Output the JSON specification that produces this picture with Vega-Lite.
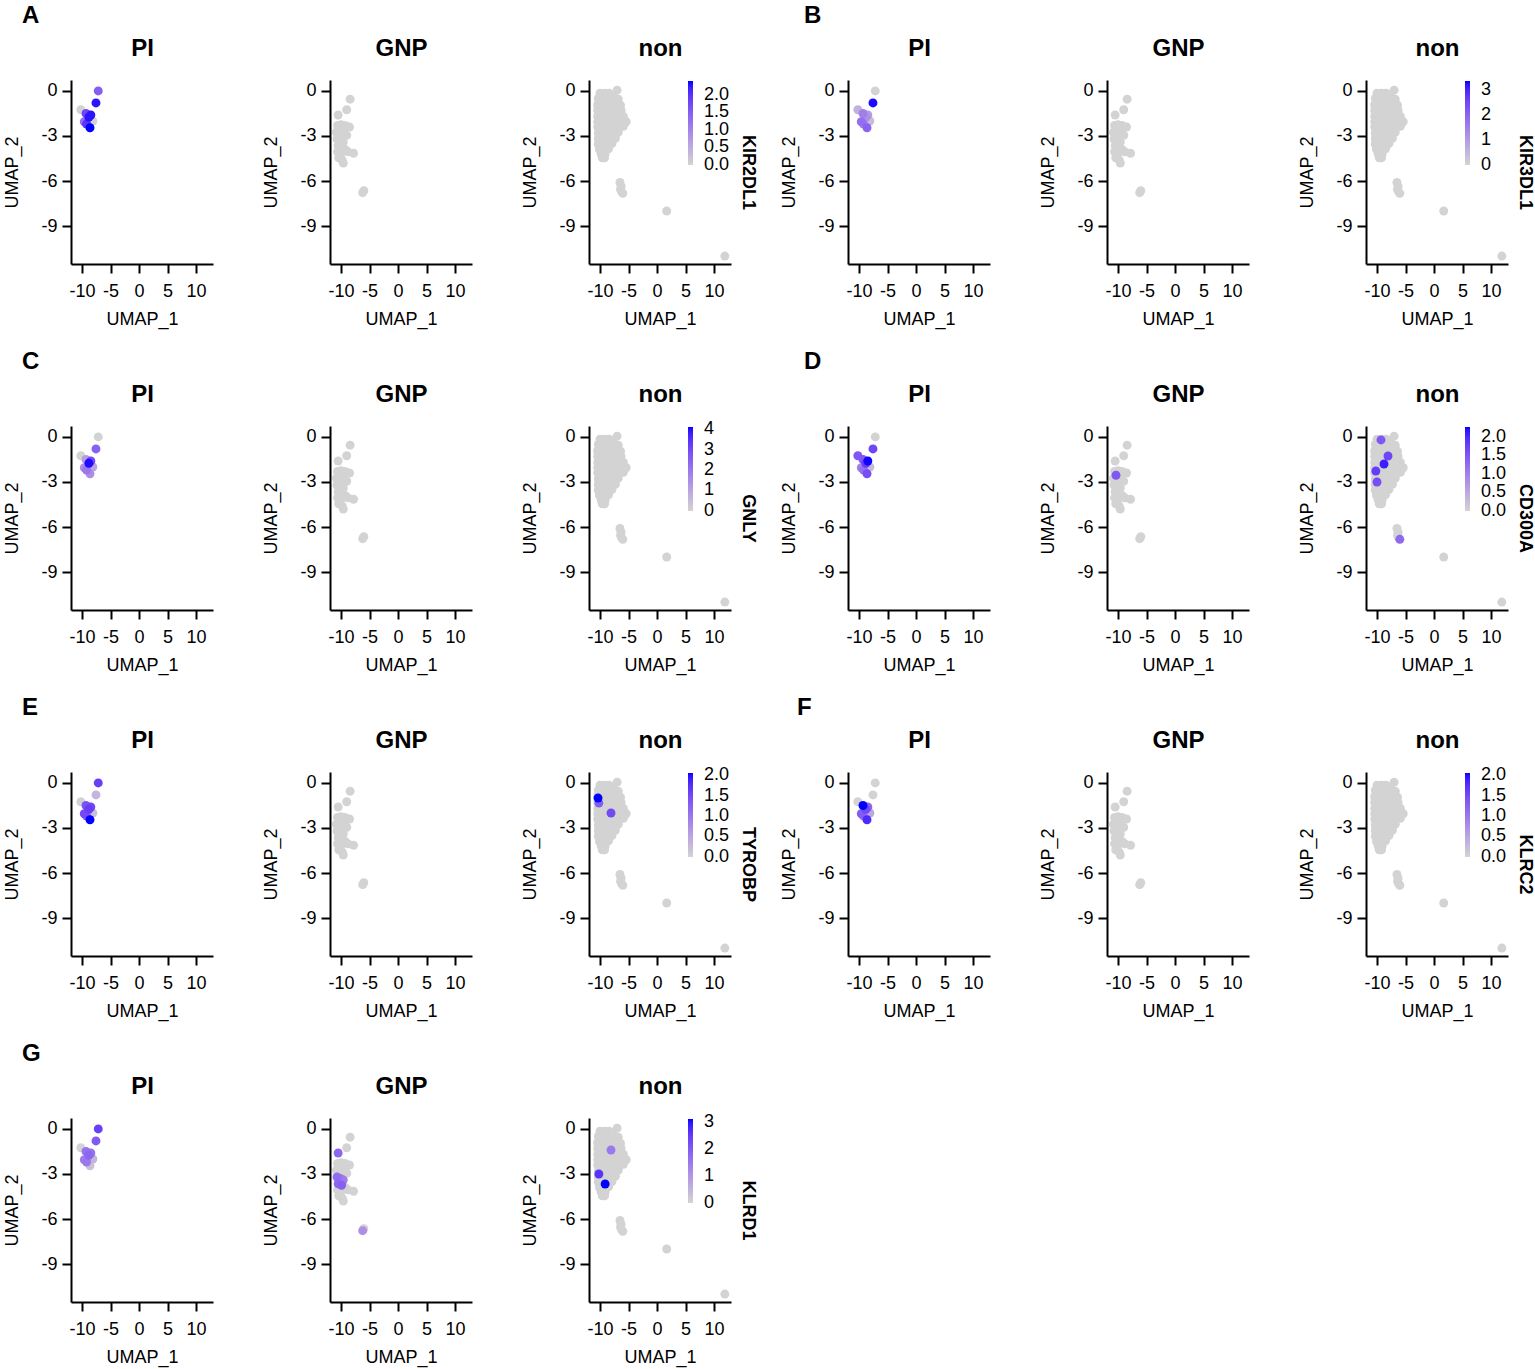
{
"$schema": "https://vega.github.io/schema/vega-lite/v6.json",
"background": "white",
"padding": {"left": 3, "top": 4, "right": 5, "bottom": 5},
"config": {
 "font": "Liberation Sans",
 "view": {"stroke": null},
 "axis": {"domainColor": "black", "domainWidth": 2, "tickColor": "black", "tickWidth": 2, "tickSize": 9, "labelFontSize": 18, "labelColor": "black", "titleFontSize": 18, "titleFontWeight": "normal", "titleColor": "black", "grid": false, "labelPadding": 9, "titlePadding": 10},
 "axisY": {"titlePadding": 19, "labelPadding": 5},
 "title": {"fontSize": 24, "fontWeight": "bold", "color": "black", "offset": 8},
 "legend": {"labelFontSize": 18, "labelColor": "black"}
},
"datasets": {"cells": [
{"g":"PI","x":-7.15,"y":0.0,"KIR2DL1":1.5,"KIR3DL1":0,"GNLY":0,"CD300A":0,"TYROBP":1.6,"KLRC2":0,"KLRD1":2.4},
{"g":"PI","x":-7.55,"y":-0.8,"KIR2DL1":2.3,"KIR3DL1":3.3,"GNLY":2.5,"CD300A":1.7,"TYROBP":0.3,"KLRC2":0,"KLRD1":2.0},
{"g":"PI","x":-10.2,"y":-1.25,"KIR2DL1":0,"KIR3DL1":0.6,"GNLY":0,"CD300A":1.5,"TYROBP":0,"KLRC2":0,"KLRD1":0},
{"g":"PI","x":-9.3,"y":-1.5,"KIR2DL1":1.8,"KIR3DL1":1.5,"GNLY":1.2,"CD300A":1.5,"TYROBP":1.4,"KLRC2":2.05,"KLRD1":1.6},
{"g":"PI","x":-8.45,"y":-1.6,"KIR2DL1":2.3,"KIR3DL1":1.0,"GNLY":3.0,"CD300A":2.25,"TYROBP":1.5,"KLRC2":1.2,"KLRD1":1.6},
{"g":"PI","x":-8.8,"y":-1.75,"KIR2DL1":2.3,"KIR3DL1":1.2,"GNLY":4.0,"CD300A":1.8,"TYROBP":1.6,"KLRC2":1.5,"KLRD1":1.8},
{"g":"PI","x":-9.6,"y":-2.05,"KIR2DL1":1.3,"KIR3DL1":1.8,"GNLY":1.5,"CD300A":1.0,"TYROBP":1.5,"KLRC2":1.3,"KLRD1":1.4},
{"g":"PI","x":-8.1,"y":-2.0,"KIR2DL1":0,"KIR3DL1":0.4,"GNLY":1.0,"CD300A":0.3,"TYROBP":0.2,"KLRC2":0.5,"KLRD1":0.5},
{"g":"PI","x":-8.6,"y":-2.45,"KIR2DL1":2.4,"KIR3DL1":2.0,"GNLY":1.5,"CD300A":1.6,"TYROBP":2.05,"KLRC2":1.8,"KLRD1":0.3},
{"g":"PI","x":-9.2,"y":-2.2,"KIR2DL1":2.0,"KIR3DL1":1.5,"GNLY":2.0,"CD300A":1.2,"TYROBP":1.3,"KLRC2":1.0,"KLRD1":1.5},
{"g":"GNP","x":-8.4,"y":-0.55,"KIR2DL1":0,"KIR3DL1":0,"GNLY":0,"CD300A":0,"TYROBP":0,"KLRC2":0,"KLRD1":0},
{"g":"GNP","x":-9.0,"y":-1.25,"KIR2DL1":0,"KIR3DL1":0,"GNLY":0,"CD300A":0,"TYROBP":0,"KLRC2":0,"KLRD1":0},
{"g":"GNP","x":-10.5,"y":-1.6,"KIR2DL1":0,"KIR3DL1":0,"GNLY":0,"CD300A":0,"TYROBP":0,"KLRC2":0,"KLRD1":1.8},
{"g":"GNP","x":-10.6,"y":-2.3,"KIR2DL1":0,"KIR3DL1":0,"GNLY":0,"CD300A":0,"TYROBP":0,"KLRC2":0,"KLRD1":0},
{"g":"GNP","x":-10.0,"y":-2.25,"KIR2DL1":0,"KIR3DL1":0,"GNLY":0,"CD300A":0,"TYROBP":0,"KLRC2":0,"KLRD1":0},
{"g":"GNP","x":-9.3,"y":-2.3,"KIR2DL1":0,"KIR3DL1":0,"GNLY":0,"CD300A":0,"TYROBP":0,"KLRC2":0,"KLRD1":0},
{"g":"GNP","x":-8.5,"y":-2.4,"KIR2DL1":0,"KIR3DL1":0,"GNLY":0,"CD300A":0,"TYROBP":0,"KLRC2":0,"KLRD1":0},
{"g":"GNP","x":-10.8,"y":-2.75,"KIR2DL1":0,"KIR3DL1":0,"GNLY":0,"CD300A":0,"TYROBP":0,"KLRC2":0,"KLRD1":0},
{"g":"GNP","x":-10.2,"y":-2.8,"KIR2DL1":0,"KIR3DL1":0,"GNLY":0,"CD300A":0,"TYROBP":0,"KLRC2":0,"KLRD1":0},
{"g":"GNP","x":-9.5,"y":-2.8,"KIR2DL1":0,"KIR3DL1":0,"GNLY":0,"CD300A":0,"TYROBP":0,"KLRC2":0,"KLRD1":0},
{"g":"GNP","x":-9.0,"y":-2.95,"KIR2DL1":0,"KIR3DL1":0,"GNLY":0,"CD300A":0,"TYROBP":0,"KLRC2":0,"KLRD1":0},
{"g":"GNP","x":-10.7,"y":-3.2,"KIR2DL1":0,"KIR3DL1":0,"GNLY":0,"CD300A":0,"TYROBP":0,"KLRC2":0,"KLRD1":1.7},
{"g":"GNP","x":-10.1,"y":-3.3,"KIR2DL1":0,"KIR3DL1":0,"GNLY":0,"CD300A":0,"TYROBP":0,"KLRC2":0,"KLRD1":1.5},
{"g":"GNP","x":-9.6,"y":-3.4,"KIR2DL1":0,"KIR3DL1":0,"GNLY":0,"CD300A":0,"TYROBP":0,"KLRC2":0,"KLRD1":1.4},
{"g":"GNP","x":-10.5,"y":-3.65,"KIR2DL1":0,"KIR3DL1":0,"GNLY":0,"CD300A":0,"TYROBP":0,"KLRC2":0,"KLRD1":1.8},
{"g":"GNP","x":-9.9,"y":-3.75,"KIR2DL1":0,"KIR3DL1":0,"GNLY":0,"CD300A":0,"TYROBP":0,"KLRC2":0,"KLRD1":1.9},
{"g":"GNP","x":-9.3,"y":-3.9,"KIR2DL1":0,"KIR3DL1":0,"GNLY":0,"CD300A":0,"TYROBP":0,"KLRC2":0,"KLRD1":0},
{"g":"GNP","x":-10.6,"y":-4.05,"KIR2DL1":0,"KIR3DL1":0,"GNLY":0,"CD300A":0,"TYROBP":0,"KLRC2":0,"KLRD1":0},
{"g":"GNP","x":-10.0,"y":-4.15,"KIR2DL1":0,"KIR3DL1":0,"GNLY":0,"CD300A":0,"TYROBP":0,"KLRC2":0,"KLRD1":0},
{"g":"GNP","x":-7.8,"y":-4.15,"KIR2DL1":0,"KIR3DL1":0,"GNLY":0,"CD300A":0,"TYROBP":0,"KLRC2":0,"KLRD1":0},
{"g":"GNP","x":-8.8,"y":-4.05,"KIR2DL1":0,"KIR3DL1":0,"GNLY":0,"CD300A":0,"TYROBP":0,"KLRC2":0,"KLRD1":0},
{"g":"GNP","x":-10.4,"y":-4.45,"KIR2DL1":0,"KIR3DL1":0,"GNLY":0,"CD300A":0,"TYROBP":0,"KLRC2":0,"KLRD1":0},
{"g":"GNP","x":-9.8,"y":-4.6,"KIR2DL1":0,"KIR3DL1":0,"GNLY":0,"CD300A":0,"TYROBP":0,"KLRC2":0,"KLRD1":0},
{"g":"GNP","x":-9.6,"y":-4.8,"KIR2DL1":0,"KIR3DL1":0,"GNLY":0,"CD300A":0,"TYROBP":0,"KLRC2":0,"KLRD1":0},
{"g":"GNP","x":-6.0,"y":-6.65,"KIR2DL1":0,"KIR3DL1":0,"GNLY":0,"CD300A":0,"TYROBP":0,"KLRC2":0,"KLRD1":0},
{"g":"GNP","x":-6.2,"y":-6.78,"KIR2DL1":0,"KIR3DL1":0,"GNLY":0,"CD300A":0,"TYROBP":0,"KLRC2":0,"KLRD1":1.1},
{"g":"GNP","x":-10.35,"y":-2.55,"KIR2DL1":0,"KIR3DL1":0,"GNLY":0,"CD300A":1.5,"TYROBP":0,"KLRC2":0,"KLRD1":0},
{"g":"non","x":-10.0,"y":-0.15,"KIR2DL1":0,"KIR3DL1":0,"GNLY":0,"CD300A":0,"TYROBP":0,"KLRC2":0,"KLRD1":0},
{"g":"non","x":-9.2,"y":-0.15,"KIR2DL1":0,"KIR3DL1":0,"GNLY":0,"CD300A":0,"TYROBP":0,"KLRC2":0,"KLRD1":0},
{"g":"non","x":-8.4,"y":-0.15,"KIR2DL1":0,"KIR3DL1":0,"GNLY":0,"CD300A":0,"TYROBP":0,"KLRC2":0,"KLRD1":0},
{"g":"non","x":-7.0,"y":0.05,"KIR2DL1":0,"KIR3DL1":0,"GNLY":0,"CD300A":0,"TYROBP":0,"KLRC2":0,"KLRD1":0},
{"g":"non","x":-7.6,"y":-0.4,"KIR2DL1":0,"KIR3DL1":0,"GNLY":0,"CD300A":0,"TYROBP":0,"KLRC2":0,"KLRD1":0},
{"g":"non","x":-10.3,"y":-0.5,"KIR2DL1":0,"KIR3DL1":0,"GNLY":0,"CD300A":0,"TYROBP":0,"KLRC2":0,"KLRD1":0},
{"g":"non","x":-9.5,"y":-0.5,"KIR2DL1":0,"KIR3DL1":0,"GNLY":0,"CD300A":0,"TYROBP":0,"KLRC2":0,"KLRD1":0},
{"g":"non","x":-8.7,"y":-0.5,"KIR2DL1":0,"KIR3DL1":0,"GNLY":0,"CD300A":0,"TYROBP":0,"KLRC2":0,"KLRD1":0},
{"g":"non","x":-7.9,"y":-0.5,"KIR2DL1":0,"KIR3DL1":0,"GNLY":0,"CD300A":0,"TYROBP":0,"KLRC2":0,"KLRD1":0},
{"g":"non","x":-6.8,"y":-0.55,"KIR2DL1":0,"KIR3DL1":0,"GNLY":0,"CD300A":0,"TYROBP":0,"KLRC2":0,"KLRD1":0},
{"g":"non","x":-10.4,"y":-0.9,"KIR2DL1":0,"KIR3DL1":0,"GNLY":0,"CD300A":0,"TYROBP":0,"KLRC2":0,"KLRD1":0},
{"g":"non","x":-9.6,"y":-0.9,"KIR2DL1":0,"KIR3DL1":0,"GNLY":0,"CD300A":0,"TYROBP":0,"KLRC2":0,"KLRD1":0},
{"g":"non","x":-8.8,"y":-0.9,"KIR2DL1":0,"KIR3DL1":0,"GNLY":0,"CD300A":0,"TYROBP":0,"KLRC2":0,"KLRD1":0},
{"g":"non","x":-8.0,"y":-0.9,"KIR2DL1":0,"KIR3DL1":0,"GNLY":0,"CD300A":0,"TYROBP":0,"KLRC2":0,"KLRD1":0},
{"g":"non","x":-7.2,"y":-0.9,"KIR2DL1":0,"KIR3DL1":0,"GNLY":0,"CD300A":0,"TYROBP":0,"KLRC2":0,"KLRD1":0},
{"g":"non","x":-6.4,"y":-0.95,"KIR2DL1":0,"KIR3DL1":0,"GNLY":0,"CD300A":0,"TYROBP":0,"KLRC2":0,"KLRD1":0},
{"g":"non","x":-10.4,"y":-1.3,"KIR2DL1":0,"KIR3DL1":0,"GNLY":0,"CD300A":0,"TYROBP":0,"KLRC2":0,"KLRD1":0},
{"g":"non","x":-9.6,"y":-1.3,"KIR2DL1":0,"KIR3DL1":0,"GNLY":0,"CD300A":0,"TYROBP":0,"KLRC2":0,"KLRD1":0},
{"g":"non","x":-8.8,"y":-1.3,"KIR2DL1":0,"KIR3DL1":0,"GNLY":0,"CD300A":0,"TYROBP":0,"KLRC2":0,"KLRD1":0},
{"g":"non","x":-8.0,"y":-1.3,"KIR2DL1":0,"KIR3DL1":0,"GNLY":0,"CD300A":0,"TYROBP":0,"KLRC2":0,"KLRD1":0},
{"g":"non","x":-7.2,"y":-1.3,"KIR2DL1":0,"KIR3DL1":0,"GNLY":0,"CD300A":0,"TYROBP":0,"KLRC2":0,"KLRD1":0},
{"g":"non","x":-6.3,"y":-1.3,"KIR2DL1":0,"KIR3DL1":0,"GNLY":0,"CD300A":0,"TYROBP":0,"KLRC2":0,"KLRD1":0},
{"g":"non","x":-10.4,"y":-1.7,"KIR2DL1":0,"KIR3DL1":0,"GNLY":0,"CD300A":0,"TYROBP":0,"KLRC2":0,"KLRD1":0},
{"g":"non","x":-9.6,"y":-1.7,"KIR2DL1":0,"KIR3DL1":0,"GNLY":0,"CD300A":0,"TYROBP":0,"KLRC2":0,"KLRD1":0},
{"g":"non","x":-8.8,"y":-1.7,"KIR2DL1":0,"KIR3DL1":0,"GNLY":0,"CD300A":0,"TYROBP":0,"KLRC2":0,"KLRD1":0},
{"g":"non","x":-8.0,"y":-1.7,"KIR2DL1":0,"KIR3DL1":0,"GNLY":0,"CD300A":0,"TYROBP":0,"KLRC2":0,"KLRD1":0},
{"g":"non","x":-7.2,"y":-1.7,"KIR2DL1":0,"KIR3DL1":0,"GNLY":0,"CD300A":0,"TYROBP":0,"KLRC2":0,"KLRD1":0},
{"g":"non","x":-6.5,"y":-1.7,"KIR2DL1":0,"KIR3DL1":0,"GNLY":0,"CD300A":0,"TYROBP":0,"KLRC2":0,"KLRD1":0},
{"g":"non","x":-5.9,"y":-1.7,"KIR2DL1":0,"KIR3DL1":0,"GNLY":0,"CD300A":0,"TYROBP":0,"KLRC2":0,"KLRD1":0},
{"g":"non","x":-10.4,"y":-2.05,"KIR2DL1":0,"KIR3DL1":0,"GNLY":0,"CD300A":0,"TYROBP":0,"KLRC2":0,"KLRD1":0},
{"g":"non","x":-9.6,"y":-2.05,"KIR2DL1":0,"KIR3DL1":0,"GNLY":0,"CD300A":0,"TYROBP":0,"KLRC2":0,"KLRD1":0},
{"g":"non","x":-8.8,"y":-2.05,"KIR2DL1":0,"KIR3DL1":0,"GNLY":0,"CD300A":0,"TYROBP":0,"KLRC2":0,"KLRD1":0},
{"g":"non","x":-8.0,"y":-2.05,"KIR2DL1":0,"KIR3DL1":0,"GNLY":0,"CD300A":0,"TYROBP":0,"KLRC2":0,"KLRD1":0},
{"g":"non","x":-7.2,"y":-2.05,"KIR2DL1":0,"KIR3DL1":0,"GNLY":0,"CD300A":0,"TYROBP":0,"KLRC2":0,"KLRD1":0},
{"g":"non","x":-6.4,"y":-2.05,"KIR2DL1":0,"KIR3DL1":0,"GNLY":0,"CD300A":0,"TYROBP":0,"KLRC2":0,"KLRD1":0},
{"g":"non","x":-5.4,"y":-2.05,"KIR2DL1":0,"KIR3DL1":0,"GNLY":0,"CD300A":0,"TYROBP":0,"KLRC2":0,"KLRD1":0},
{"g":"non","x":-10.4,"y":-2.4,"KIR2DL1":0,"KIR3DL1":0,"GNLY":0,"CD300A":0,"TYROBP":0,"KLRC2":0,"KLRD1":0},
{"g":"non","x":-9.6,"y":-2.4,"KIR2DL1":0,"KIR3DL1":0,"GNLY":0,"CD300A":0,"TYROBP":0,"KLRC2":0,"KLRD1":0},
{"g":"non","x":-8.8,"y":-2.4,"KIR2DL1":0,"KIR3DL1":0,"GNLY":0,"CD300A":0,"TYROBP":0,"KLRC2":0,"KLRD1":0},
{"g":"non","x":-8.0,"y":-2.4,"KIR2DL1":0,"KIR3DL1":0,"GNLY":0,"CD300A":0,"TYROBP":0,"KLRC2":0,"KLRD1":0},
{"g":"non","x":-7.2,"y":-2.4,"KIR2DL1":0,"KIR3DL1":0,"GNLY":0,"CD300A":0,"TYROBP":0,"KLRC2":0,"KLRD1":0},
{"g":"non","x":-6.5,"y":-2.4,"KIR2DL1":0,"KIR3DL1":0,"GNLY":0,"CD300A":0,"TYROBP":0,"KLRC2":0,"KLRD1":0},
{"g":"non","x":-5.9,"y":-2.35,"KIR2DL1":0,"KIR3DL1":0,"GNLY":0,"CD300A":0,"TYROBP":0,"KLRC2":0,"KLRD1":0},
{"g":"non","x":-10.3,"y":-2.8,"KIR2DL1":0,"KIR3DL1":0,"GNLY":0,"CD300A":0,"TYROBP":0,"KLRC2":0,"KLRD1":0},
{"g":"non","x":-9.5,"y":-2.8,"KIR2DL1":0,"KIR3DL1":0,"GNLY":0,"CD300A":0,"TYROBP":0,"KLRC2":0,"KLRD1":0},
{"g":"non","x":-8.7,"y":-2.8,"KIR2DL1":0,"KIR3DL1":0,"GNLY":0,"CD300A":0,"TYROBP":0,"KLRC2":0,"KLRD1":0},
{"g":"non","x":-7.9,"y":-2.8,"KIR2DL1":0,"KIR3DL1":0,"GNLY":0,"CD300A":0,"TYROBP":0,"KLRC2":0,"KLRD1":0},
{"g":"non","x":-7.2,"y":-2.8,"KIR2DL1":0,"KIR3DL1":0,"GNLY":0,"CD300A":0,"TYROBP":0,"KLRC2":0,"KLRD1":0},
{"g":"non","x":-6.8,"y":-2.75,"KIR2DL1":0,"KIR3DL1":0,"GNLY":0,"CD300A":0,"TYROBP":0,"KLRC2":0,"KLRD1":0},
{"g":"non","x":-10.3,"y":-3.2,"KIR2DL1":0,"KIR3DL1":0,"GNLY":0,"CD300A":0,"TYROBP":0,"KLRC2":0,"KLRD1":0},
{"g":"non","x":-9.5,"y":-3.2,"KIR2DL1":0,"KIR3DL1":0,"GNLY":0,"CD300A":0,"TYROBP":0,"KLRC2":0,"KLRD1":0},
{"g":"non","x":-8.7,"y":-3.2,"KIR2DL1":0,"KIR3DL1":0,"GNLY":0,"CD300A":0,"TYROBP":0,"KLRC2":0,"KLRD1":0},
{"g":"non","x":-7.9,"y":-3.2,"KIR2DL1":0,"KIR3DL1":0,"GNLY":0,"CD300A":0,"TYROBP":0,"KLRC2":0,"KLRD1":0},
{"g":"non","x":-7.3,"y":-3.15,"KIR2DL1":0,"KIR3DL1":0,"GNLY":0,"CD300A":0,"TYROBP":0,"KLRC2":0,"KLRD1":0},
{"g":"non","x":-10.3,"y":-3.55,"KIR2DL1":0,"KIR3DL1":0,"GNLY":0,"CD300A":0,"TYROBP":0,"KLRC2":0,"KLRD1":0},
{"g":"non","x":-9.5,"y":-3.55,"KIR2DL1":0,"KIR3DL1":0,"GNLY":0,"CD300A":0,"TYROBP":0,"KLRC2":0,"KLRD1":0},
{"g":"non","x":-8.7,"y":-3.55,"KIR2DL1":0,"KIR3DL1":0,"GNLY":0,"CD300A":0,"TYROBP":0,"KLRC2":0,"KLRD1":0},
{"g":"non","x":-7.9,"y":-3.5,"KIR2DL1":0,"KIR3DL1":0,"GNLY":0,"CD300A":0,"TYROBP":0,"KLRC2":0,"KLRD1":0},
{"g":"non","x":-10.1,"y":-3.9,"KIR2DL1":0,"KIR3DL1":0,"GNLY":0,"CD300A":0,"TYROBP":0,"KLRC2":0,"KLRD1":0},
{"g":"non","x":-9.3,"y":-3.9,"KIR2DL1":0,"KIR3DL1":0,"GNLY":0,"CD300A":0,"TYROBP":0,"KLRC2":0,"KLRD1":0},
{"g":"non","x":-8.5,"y":-3.85,"KIR2DL1":0,"KIR3DL1":0,"GNLY":0,"CD300A":0,"TYROBP":0,"KLRC2":0,"KLRD1":0},
{"g":"non","x":-9.8,"y":-4.2,"KIR2DL1":0,"KIR3DL1":0,"GNLY":0,"CD300A":0,"TYROBP":0,"KLRC2":0,"KLRD1":0},
{"g":"non","x":-9.1,"y":-4.2,"KIR2DL1":0,"KIR3DL1":0,"GNLY":0,"CD300A":0,"TYROBP":0,"KLRC2":0,"KLRD1":0},
{"g":"non","x":-9.6,"y":-4.45,"KIR2DL1":0,"KIR3DL1":0,"GNLY":0,"CD300A":0,"TYROBP":0,"KLRC2":0,"KLRD1":0},
{"g":"non","x":-9.2,"y":-4.45,"KIR2DL1":0,"KIR3DL1":0,"GNLY":0,"CD300A":0,"TYROBP":0,"KLRC2":0,"KLRD1":0},
{"g":"non","x":-6.5,"y":-6.1,"KIR2DL1":0,"KIR3DL1":0,"GNLY":0,"CD300A":0,"TYROBP":0,"KLRC2":0,"KLRD1":0},
{"g":"non","x":-6.3,"y":-6.35,"KIR2DL1":0,"KIR3DL1":0,"GNLY":0,"CD300A":0,"TYROBP":0,"KLRC2":0,"KLRD1":0},
{"g":"non","x":-6.4,"y":-6.55,"KIR2DL1":0,"KIR3DL1":0,"GNLY":0,"CD300A":0,"TYROBP":0,"KLRC2":0,"KLRD1":0},
{"g":"non","x":-6.2,"y":-6.72,"KIR2DL1":0,"KIR3DL1":0,"GNLY":0,"CD300A":0,"TYROBP":0,"KLRC2":0,"KLRD1":0},
{"g":"non","x":-6.0,"y":-6.82,"KIR2DL1":0,"KIR3DL1":0,"GNLY":0,"CD300A":1.3,"TYROBP":0,"KLRC2":0,"KLRD1":0},
{"g":"non","x":1.7,"y":-8.0,"KIR2DL1":0,"KIR3DL1":0,"GNLY":0,"CD300A":0,"TYROBP":0,"KLRC2":0,"KLRD1":0},
{"g":"non","x":11.9,"y":-11.0,"KIR2DL1":0,"KIR3DL1":0,"GNLY":0,"CD300A":0,"TYROBP":0,"KLRC2":0,"KLRD1":0},
{"g":"non","x":-9.3,"y":-0.2,"KIR2DL1":0,"KIR3DL1":0,"GNLY":0,"CD300A":1.5,"TYROBP":0,"KLRC2":0,"KLRD1":0},
{"g":"non","x":-8.07,"y":-1.27,"KIR2DL1":0,"KIR3DL1":0,"GNLY":0,"CD300A":1.7,"TYROBP":0,"KLRC2":0,"KLRD1":0},
{"g":"non","x":-8.77,"y":-1.8,"KIR2DL1":0,"KIR3DL1":0,"GNLY":0,"CD300A":2.1,"TYROBP":0,"KLRC2":0,"KLRD1":0},
{"g":"non","x":-10.2,"y":-2.27,"KIR2DL1":0,"KIR3DL1":0,"GNLY":0,"CD300A":1.8,"TYROBP":0,"KLRC2":0,"KLRD1":0},
{"g":"non","x":-10.0,"y":-3.0,"KIR2DL1":0,"KIR3DL1":0,"GNLY":0,"CD300A":1.6,"TYROBP":0,"KLRC2":0,"KLRD1":0},
{"g":"non","x":-10.35,"y":-1.0,"KIR2DL1":0,"KIR3DL1":0,"GNLY":0,"CD300A":0,"TYROBP":2.05,"KLRC2":0,"KLRD1":0},
{"g":"non","x":-10.2,"y":-1.34,"KIR2DL1":0,"KIR3DL1":0,"GNLY":0,"CD300A":0,"TYROBP":1.3,"KLRC2":0,"KLRD1":0},
{"g":"non","x":-8.07,"y":-2.0,"KIR2DL1":0,"KIR3DL1":0,"GNLY":0,"CD300A":0,"TYROBP":1.5,"KLRC2":0,"KLRD1":0},
{"g":"non","x":-8.07,"y":-1.4,"KIR2DL1":0,"KIR3DL1":0,"GNLY":0,"CD300A":0,"TYROBP":0,"KLRC2":0,"KLRD1":1.5},
{"g":"non","x":-10.2,"y":-3.0,"KIR2DL1":0,"KIR3DL1":0,"GNLY":0,"CD300A":0,"TYROBP":0,"KLRC2":0,"KLRD1":2.6},
{"g":"non","x":-9.1,"y":-3.67,"KIR2DL1":0,"KIR3DL1":0,"GNLY":0,"CD300A":0,"TYROBP":0,"KLRC2":0,"KLRD1":3.1}
]},
"columns": 6,
"bounds": "flush",
"spacing": {"row": 162, "column": 117},
"resolve": {"scale": {"color": "independent"}},
"concat": [
{"width":142,"height":184,"title":{"text":"A","anchor":"start","frame":"group","dx":-49},"data":{"name":"cells"},"transform":[{"filter":"datum.g === 'PI'"}],"resolve":{"axis":{"x":"independent"}},"layer":[
 {"mark":{"type":"circle","size":80,"opacity":1},"encoding":{"x":{"field":"x","type":"quantitative","scale":{"domain":[-11.93,12.98],"nice":false,"zero":false},"axis":{"values":[-10,-5,0,5,10],"title":"UMAP_1","labelExpr":"'' + datum.value"}},"y":{"field":"y","type":"quantitative","scale":{"domain":[-11.53,0.73],"nice":false,"zero":false},"axis":{"values":[0,-3,-6,-9],"title":"UMAP_2","labelExpr":"'' + datum.value"}},"color":{"field":"KIR2DL1","type":"quantitative","scale":{"domain":[-0.001,2.4],"range":["#d3d3d3","#0000ff"],"interpolate":"lab"},"legend":null},"order":{"field":"KIR2DL1","type":"quantitative"}}},
 {"mark":{"type":"point","opacity":0},"encoding":{"x":{"field":"x","type":"quantitative","scale":{"domain":[-11.93,12.98],"nice":false,"zero":false},"axis":{"orient":"top","title":"PI","domain":false,"ticks":false,"labels":false,"titleFontSize":24,"titleFontWeight":"bold","titlePadding":20}}}}
]},
{"width":142,"height":184,"data":{"name":"cells"},"transform":[{"filter":"datum.g === 'GNP'"}],"resolve":{"axis":{"x":"independent"}},"layer":[
 {"mark":{"type":"circle","size":80,"opacity":1},"encoding":{"x":{"field":"x","type":"quantitative","scale":{"domain":[-11.93,12.98],"nice":false,"zero":false},"axis":{"values":[-10,-5,0,5,10],"title":"UMAP_1","labelExpr":"'' + datum.value"}},"y":{"field":"y","type":"quantitative","scale":{"domain":[-11.53,0.73],"nice":false,"zero":false},"axis":{"values":[0,-3,-6,-9],"title":"UMAP_2","labelExpr":"'' + datum.value"}},"color":{"field":"KIR2DL1","type":"quantitative","scale":{"domain":[-0.001,2.4],"range":["#d3d3d3","#0000ff"],"interpolate":"lab"},"legend":null},"order":{"field":"KIR2DL1","type":"quantitative"}}},
 {"mark":{"type":"point","opacity":0},"encoding":{"x":{"field":"x","type":"quantitative","scale":{"domain":[-11.93,12.98],"nice":false,"zero":false},"axis":{"orient":"top","title":"GNP","domain":false,"ticks":false,"labels":false,"titleFontSize":24,"titleFontWeight":"bold","titlePadding":20}}}}
]},
{"width":142,"height":184,"data":{"name":"cells"},"transform":[{"filter":"datum.g === 'non'"}],"resolve":{"axis":{"x":"independent","y":"independent"}},"layer":[
 {"mark":{"type":"circle","size":80,"opacity":1},"encoding":{"x":{"field":"x","type":"quantitative","scale":{"domain":[-11.93,12.98],"nice":false,"zero":false},"axis":{"values":[-10,-5,0,5,10],"title":"UMAP_1","labelExpr":"'' + datum.value"}},"y":{"field":"y","type":"quantitative","scale":{"domain":[-11.53,0.73],"nice":false,"zero":false},"axis":{"values":[0,-3,-6,-9],"title":"UMAP_2","labelExpr":"'' + datum.value"}},"color":{"field":"KIR2DL1","type":"quantitative","scale":{"domain":[-0.001,2.4],"range":["#d3d3d3","#0000ff"],"interpolate":"lab"},"legend":{"orient":"none","legendX":99,"legendY":1,"direction":"vertical","title":null,"gradientLength":84,"gradientThickness":5,"gradientStrokeWidth":0,"values":[0,0.5,1,1.5,2],"format":".1f","labelOffset":11,"labelOverlap":false,"encode":{"labels":{"update":{"dy":{"value":4}}}}}},"order":{"field":"KIR2DL1","type":"quantitative"}}},
 {"mark":{"type":"point","opacity":0},"encoding":{"x":{"field":"x","type":"quantitative","scale":{"domain":[-11.93,12.98],"nice":false,"zero":false},"axis":{"orient":"top","title":"non","domain":false,"ticks":false,"labels":false,"titleFontSize":24,"titleFontWeight":"bold","titlePadding":20}},"y":{"field":"y","type":"quantitative","scale":{"domain":[-11.53,0.73],"nice":false,"zero":false},"axis":{"orient":"right","title":"KIR2DL1","domain":false,"ticks":false,"labels":false,"titleAngle":90,"titleFontWeight":"bold","titleFontSize":18,"titlePadding":7}}}}
]},
{"width":142,"height":184,"title":{"text":"B","anchor":"start","frame":"group","dx":-44},"data":{"name":"cells"},"transform":[{"filter":"datum.g === 'PI'"}],"resolve":{"axis":{"x":"independent"}},"layer":[
 {"mark":{"type":"circle","size":80,"opacity":1},"encoding":{"x":{"field":"x","type":"quantitative","scale":{"domain":[-11.93,12.98],"nice":false,"zero":false},"axis":{"values":[-10,-5,0,5,10],"title":"UMAP_1","labelExpr":"'' + datum.value"}},"y":{"field":"y","type":"quantitative","scale":{"domain":[-11.53,0.73],"nice":false,"zero":false},"axis":{"values":[0,-3,-6,-9],"title":"UMAP_2","labelExpr":"'' + datum.value"}},"color":{"field":"KIR3DL1","type":"quantitative","scale":{"domain":[-0.001,3.36],"range":["#d3d3d3","#0000ff"],"interpolate":"lab"},"legend":null},"order":{"field":"KIR3DL1","type":"quantitative"}}},
 {"mark":{"type":"point","opacity":0},"encoding":{"x":{"field":"x","type":"quantitative","scale":{"domain":[-11.93,12.98],"nice":false,"zero":false},"axis":{"orient":"top","title":"PI","domain":false,"ticks":false,"labels":false,"titleFontSize":24,"titleFontWeight":"bold","titlePadding":20}}}}
]},
{"width":142,"height":184,"data":{"name":"cells"},"transform":[{"filter":"datum.g === 'GNP'"}],"resolve":{"axis":{"x":"independent"}},"layer":[
 {"mark":{"type":"circle","size":80,"opacity":1},"encoding":{"x":{"field":"x","type":"quantitative","scale":{"domain":[-11.93,12.98],"nice":false,"zero":false},"axis":{"values":[-10,-5,0,5,10],"title":"UMAP_1","labelExpr":"'' + datum.value"}},"y":{"field":"y","type":"quantitative","scale":{"domain":[-11.53,0.73],"nice":false,"zero":false},"axis":{"values":[0,-3,-6,-9],"title":"UMAP_2","labelExpr":"'' + datum.value"}},"color":{"field":"KIR3DL1","type":"quantitative","scale":{"domain":[-0.001,3.36],"range":["#d3d3d3","#0000ff"],"interpolate":"lab"},"legend":null},"order":{"field":"KIR3DL1","type":"quantitative"}}},
 {"mark":{"type":"point","opacity":0},"encoding":{"x":{"field":"x","type":"quantitative","scale":{"domain":[-11.93,12.98],"nice":false,"zero":false},"axis":{"orient":"top","title":"GNP","domain":false,"ticks":false,"labels":false,"titleFontSize":24,"titleFontWeight":"bold","titlePadding":20}}}}
]},
{"width":142,"height":184,"data":{"name":"cells"},"transform":[{"filter":"datum.g === 'non'"}],"resolve":{"axis":{"x":"independent","y":"independent"}},"layer":[
 {"mark":{"type":"circle","size":80,"opacity":1},"encoding":{"x":{"field":"x","type":"quantitative","scale":{"domain":[-11.93,12.98],"nice":false,"zero":false},"axis":{"values":[-10,-5,0,5,10],"title":"UMAP_1","labelExpr":"'' + datum.value"}},"y":{"field":"y","type":"quantitative","scale":{"domain":[-11.53,0.73],"nice":false,"zero":false},"axis":{"values":[0,-3,-6,-9],"title":"UMAP_2","labelExpr":"'' + datum.value"}},"color":{"field":"KIR3DL1","type":"quantitative","scale":{"domain":[-0.001,3.36],"range":["#d3d3d3","#0000ff"],"interpolate":"lab"},"legend":{"orient":"none","legendX":99,"legendY":1,"direction":"vertical","title":null,"gradientLength":84,"gradientThickness":5,"gradientStrokeWidth":0,"values":[0,1,2,3],"format":"d","labelOffset":11,"labelOverlap":false,"encode":{"labels":{"update":{"dy":{"value":4}}}}}},"order":{"field":"KIR3DL1","type":"quantitative"}}},
 {"mark":{"type":"point","opacity":0},"encoding":{"x":{"field":"x","type":"quantitative","scale":{"domain":[-11.93,12.98],"nice":false,"zero":false},"axis":{"orient":"top","title":"non","domain":false,"ticks":false,"labels":false,"titleFontSize":24,"titleFontWeight":"bold","titlePadding":20}},"y":{"field":"y","type":"quantitative","scale":{"domain":[-11.53,0.73],"nice":false,"zero":false},"axis":{"orient":"right","title":"KIR3DL1","domain":false,"ticks":false,"labels":false,"titleAngle":90,"titleFontWeight":"bold","titleFontSize":18,"titlePadding":7}}}}
]},
{"width":142,"height":184,"title":{"text":"C","anchor":"start","frame":"group","dx":-49},"data":{"name":"cells"},"transform":[{"filter":"datum.g === 'PI'"}],"resolve":{"axis":{"x":"independent"}},"layer":[
 {"mark":{"type":"circle","size":80,"opacity":1},"encoding":{"x":{"field":"x","type":"quantitative","scale":{"domain":[-11.93,12.98],"nice":false,"zero":false},"axis":{"values":[-10,-5,0,5,10],"title":"UMAP_1","labelExpr":"'' + datum.value"}},"y":{"field":"y","type":"quantitative","scale":{"domain":[-11.53,0.73],"nice":false,"zero":false},"axis":{"values":[0,-3,-6,-9],"title":"UMAP_2","labelExpr":"'' + datum.value"}},"color":{"field":"GNLY","type":"quantitative","scale":{"domain":[-0.001,4.1],"range":["#d3d3d3","#0000ff"],"interpolate":"lab"},"legend":null},"order":{"field":"GNLY","type":"quantitative"}}},
 {"mark":{"type":"point","opacity":0},"encoding":{"x":{"field":"x","type":"quantitative","scale":{"domain":[-11.93,12.98],"nice":false,"zero":false},"axis":{"orient":"top","title":"PI","domain":false,"ticks":false,"labels":false,"titleFontSize":24,"titleFontWeight":"bold","titlePadding":20}}}}
]},
{"width":142,"height":184,"data":{"name":"cells"},"transform":[{"filter":"datum.g === 'GNP'"}],"resolve":{"axis":{"x":"independent"}},"layer":[
 {"mark":{"type":"circle","size":80,"opacity":1},"encoding":{"x":{"field":"x","type":"quantitative","scale":{"domain":[-11.93,12.98],"nice":false,"zero":false},"axis":{"values":[-10,-5,0,5,10],"title":"UMAP_1","labelExpr":"'' + datum.value"}},"y":{"field":"y","type":"quantitative","scale":{"domain":[-11.53,0.73],"nice":false,"zero":false},"axis":{"values":[0,-3,-6,-9],"title":"UMAP_2","labelExpr":"'' + datum.value"}},"color":{"field":"GNLY","type":"quantitative","scale":{"domain":[-0.001,4.1],"range":["#d3d3d3","#0000ff"],"interpolate":"lab"},"legend":null},"order":{"field":"GNLY","type":"quantitative"}}},
 {"mark":{"type":"point","opacity":0},"encoding":{"x":{"field":"x","type":"quantitative","scale":{"domain":[-11.93,12.98],"nice":false,"zero":false},"axis":{"orient":"top","title":"GNP","domain":false,"ticks":false,"labels":false,"titleFontSize":24,"titleFontWeight":"bold","titlePadding":20}}}}
]},
{"width":142,"height":184,"data":{"name":"cells"},"transform":[{"filter":"datum.g === 'non'"}],"resolve":{"axis":{"x":"independent","y":"independent"}},"layer":[
 {"mark":{"type":"circle","size":80,"opacity":1},"encoding":{"x":{"field":"x","type":"quantitative","scale":{"domain":[-11.93,12.98],"nice":false,"zero":false},"axis":{"values":[-10,-5,0,5,10],"title":"UMAP_1","labelExpr":"'' + datum.value"}},"y":{"field":"y","type":"quantitative","scale":{"domain":[-11.53,0.73],"nice":false,"zero":false},"axis":{"values":[0,-3,-6,-9],"title":"UMAP_2","labelExpr":"'' + datum.value"}},"color":{"field":"GNLY","type":"quantitative","scale":{"domain":[-0.001,4.1],"range":["#d3d3d3","#0000ff"],"interpolate":"lab"},"legend":{"orient":"none","legendX":99,"legendY":1,"direction":"vertical","title":null,"gradientLength":84,"gradientThickness":5,"gradientStrokeWidth":0,"values":[0,1,2,3,4],"format":"d","labelOffset":11,"labelOverlap":false,"encode":{"labels":{"update":{"dy":{"value":4}}}}}},"order":{"field":"GNLY","type":"quantitative"}}},
 {"mark":{"type":"point","opacity":0},"encoding":{"x":{"field":"x","type":"quantitative","scale":{"domain":[-11.93,12.98],"nice":false,"zero":false},"axis":{"orient":"top","title":"non","domain":false,"ticks":false,"labels":false,"titleFontSize":24,"titleFontWeight":"bold","titlePadding":20}},"y":{"field":"y","type":"quantitative","scale":{"domain":[-11.53,0.73],"nice":false,"zero":false},"axis":{"orient":"right","title":"GNLY","domain":false,"ticks":false,"labels":false,"titleAngle":90,"titleFontWeight":"bold","titleFontSize":18,"titlePadding":7}}}}
]},
{"width":142,"height":184,"title":{"text":"D","anchor":"start","frame":"group","dx":-44},"data":{"name":"cells"},"transform":[{"filter":"datum.g === 'PI'"}],"resolve":{"axis":{"x":"independent"}},"layer":[
 {"mark":{"type":"circle","size":80,"opacity":1},"encoding":{"x":{"field":"x","type":"quantitative","scale":{"domain":[-11.93,12.98],"nice":false,"zero":false},"axis":{"values":[-10,-5,0,5,10],"title":"UMAP_1","labelExpr":"'' + datum.value"}},"y":{"field":"y","type":"quantitative","scale":{"domain":[-11.53,0.73],"nice":false,"zero":false},"axis":{"values":[0,-3,-6,-9],"title":"UMAP_2","labelExpr":"'' + datum.value"}},"color":{"field":"CD300A","type":"quantitative","scale":{"domain":[-0.001,2.27],"range":["#d3d3d3","#0000ff"],"interpolate":"lab"},"legend":null},"order":{"field":"CD300A","type":"quantitative"}}},
 {"mark":{"type":"point","opacity":0},"encoding":{"x":{"field":"x","type":"quantitative","scale":{"domain":[-11.93,12.98],"nice":false,"zero":false},"axis":{"orient":"top","title":"PI","domain":false,"ticks":false,"labels":false,"titleFontSize":24,"titleFontWeight":"bold","titlePadding":20}}}}
]},
{"width":142,"height":184,"data":{"name":"cells"},"transform":[{"filter":"datum.g === 'GNP'"}],"resolve":{"axis":{"x":"independent"}},"layer":[
 {"mark":{"type":"circle","size":80,"opacity":1},"encoding":{"x":{"field":"x","type":"quantitative","scale":{"domain":[-11.93,12.98],"nice":false,"zero":false},"axis":{"values":[-10,-5,0,5,10],"title":"UMAP_1","labelExpr":"'' + datum.value"}},"y":{"field":"y","type":"quantitative","scale":{"domain":[-11.53,0.73],"nice":false,"zero":false},"axis":{"values":[0,-3,-6,-9],"title":"UMAP_2","labelExpr":"'' + datum.value"}},"color":{"field":"CD300A","type":"quantitative","scale":{"domain":[-0.001,2.27],"range":["#d3d3d3","#0000ff"],"interpolate":"lab"},"legend":null},"order":{"field":"CD300A","type":"quantitative"}}},
 {"mark":{"type":"point","opacity":0},"encoding":{"x":{"field":"x","type":"quantitative","scale":{"domain":[-11.93,12.98],"nice":false,"zero":false},"axis":{"orient":"top","title":"GNP","domain":false,"ticks":false,"labels":false,"titleFontSize":24,"titleFontWeight":"bold","titlePadding":20}}}}
]},
{"width":142,"height":184,"data":{"name":"cells"},"transform":[{"filter":"datum.g === 'non'"}],"resolve":{"axis":{"x":"independent","y":"independent"}},"layer":[
 {"mark":{"type":"circle","size":80,"opacity":1},"encoding":{"x":{"field":"x","type":"quantitative","scale":{"domain":[-11.93,12.98],"nice":false,"zero":false},"axis":{"values":[-10,-5,0,5,10],"title":"UMAP_1","labelExpr":"'' + datum.value"}},"y":{"field":"y","type":"quantitative","scale":{"domain":[-11.53,0.73],"nice":false,"zero":false},"axis":{"values":[0,-3,-6,-9],"title":"UMAP_2","labelExpr":"'' + datum.value"}},"color":{"field":"CD300A","type":"quantitative","scale":{"domain":[-0.001,2.27],"range":["#d3d3d3","#0000ff"],"interpolate":"lab"},"legend":{"orient":"none","legendX":99,"legendY":1,"direction":"vertical","title":null,"gradientLength":84,"gradientThickness":5,"gradientStrokeWidth":0,"values":[0,0.5,1,1.5,2],"format":".1f","labelOffset":11,"labelOverlap":false,"encode":{"labels":{"update":{"dy":{"value":4}}}}}},"order":{"field":"CD300A","type":"quantitative"}}},
 {"mark":{"type":"point","opacity":0},"encoding":{"x":{"field":"x","type":"quantitative","scale":{"domain":[-11.93,12.98],"nice":false,"zero":false},"axis":{"orient":"top","title":"non","domain":false,"ticks":false,"labels":false,"titleFontSize":24,"titleFontWeight":"bold","titlePadding":20}},"y":{"field":"y","type":"quantitative","scale":{"domain":[-11.53,0.73],"nice":false,"zero":false},"axis":{"orient":"right","title":"CD300A","domain":false,"ticks":false,"labels":false,"titleAngle":90,"titleFontWeight":"bold","titleFontSize":18,"titlePadding":7}}}}
]},
{"width":142,"height":184,"title":{"text":"E","anchor":"start","frame":"group","dx":-49},"data":{"name":"cells"},"transform":[{"filter":"datum.g === 'PI'"}],"resolve":{"axis":{"x":"independent"}},"layer":[
 {"mark":{"type":"circle","size":80,"opacity":1},"encoding":{"x":{"field":"x","type":"quantitative","scale":{"domain":[-11.93,12.98],"nice":false,"zero":false},"axis":{"values":[-10,-5,0,5,10],"title":"UMAP_1","labelExpr":"'' + datum.value"}},"y":{"field":"y","type":"quantitative","scale":{"domain":[-11.53,0.73],"nice":false,"zero":false},"axis":{"values":[0,-3,-6,-9],"title":"UMAP_2","labelExpr":"'' + datum.value"}},"color":{"field":"TYROBP","type":"quantitative","scale":{"domain":[-0.001,2.05],"range":["#d3d3d3","#0000ff"],"interpolate":"lab"},"legend":null},"order":{"field":"TYROBP","type":"quantitative"}}},
 {"mark":{"type":"point","opacity":0},"encoding":{"x":{"field":"x","type":"quantitative","scale":{"domain":[-11.93,12.98],"nice":false,"zero":false},"axis":{"orient":"top","title":"PI","domain":false,"ticks":false,"labels":false,"titleFontSize":24,"titleFontWeight":"bold","titlePadding":20}}}}
]},
{"width":142,"height":184,"data":{"name":"cells"},"transform":[{"filter":"datum.g === 'GNP'"}],"resolve":{"axis":{"x":"independent"}},"layer":[
 {"mark":{"type":"circle","size":80,"opacity":1},"encoding":{"x":{"field":"x","type":"quantitative","scale":{"domain":[-11.93,12.98],"nice":false,"zero":false},"axis":{"values":[-10,-5,0,5,10],"title":"UMAP_1","labelExpr":"'' + datum.value"}},"y":{"field":"y","type":"quantitative","scale":{"domain":[-11.53,0.73],"nice":false,"zero":false},"axis":{"values":[0,-3,-6,-9],"title":"UMAP_2","labelExpr":"'' + datum.value"}},"color":{"field":"TYROBP","type":"quantitative","scale":{"domain":[-0.001,2.05],"range":["#d3d3d3","#0000ff"],"interpolate":"lab"},"legend":null},"order":{"field":"TYROBP","type":"quantitative"}}},
 {"mark":{"type":"point","opacity":0},"encoding":{"x":{"field":"x","type":"quantitative","scale":{"domain":[-11.93,12.98],"nice":false,"zero":false},"axis":{"orient":"top","title":"GNP","domain":false,"ticks":false,"labels":false,"titleFontSize":24,"titleFontWeight":"bold","titlePadding":20}}}}
]},
{"width":142,"height":184,"data":{"name":"cells"},"transform":[{"filter":"datum.g === 'non'"}],"resolve":{"axis":{"x":"independent","y":"independent"}},"layer":[
 {"mark":{"type":"circle","size":80,"opacity":1},"encoding":{"x":{"field":"x","type":"quantitative","scale":{"domain":[-11.93,12.98],"nice":false,"zero":false},"axis":{"values":[-10,-5,0,5,10],"title":"UMAP_1","labelExpr":"'' + datum.value"}},"y":{"field":"y","type":"quantitative","scale":{"domain":[-11.53,0.73],"nice":false,"zero":false},"axis":{"values":[0,-3,-6,-9],"title":"UMAP_2","labelExpr":"'' + datum.value"}},"color":{"field":"TYROBP","type":"quantitative","scale":{"domain":[-0.001,2.05],"range":["#d3d3d3","#0000ff"],"interpolate":"lab"},"legend":{"orient":"none","legendX":99,"legendY":1,"direction":"vertical","title":null,"gradientLength":84,"gradientThickness":5,"gradientStrokeWidth":0,"values":[0,0.5,1,1.5,2],"format":".1f","labelOffset":11,"labelOverlap":false,"encode":{"labels":{"update":{"dy":{"value":4}}}}}},"order":{"field":"TYROBP","type":"quantitative"}}},
 {"mark":{"type":"point","opacity":0},"encoding":{"x":{"field":"x","type":"quantitative","scale":{"domain":[-11.93,12.98],"nice":false,"zero":false},"axis":{"orient":"top","title":"non","domain":false,"ticks":false,"labels":false,"titleFontSize":24,"titleFontWeight":"bold","titlePadding":20}},"y":{"field":"y","type":"quantitative","scale":{"domain":[-11.53,0.73],"nice":false,"zero":false},"axis":{"orient":"right","title":"TYROBP","domain":false,"ticks":false,"labels":false,"titleAngle":90,"titleFontWeight":"bold","titleFontSize":18,"titlePadding":7}}}}
]},
{"width":142,"height":184,"title":{"text":"F","anchor":"start","frame":"group","dx":-51},"data":{"name":"cells"},"transform":[{"filter":"datum.g === 'PI'"}],"resolve":{"axis":{"x":"independent"}},"layer":[
 {"mark":{"type":"circle","size":80,"opacity":1},"encoding":{"x":{"field":"x","type":"quantitative","scale":{"domain":[-11.93,12.98],"nice":false,"zero":false},"axis":{"values":[-10,-5,0,5,10],"title":"UMAP_1","labelExpr":"'' + datum.value"}},"y":{"field":"y","type":"quantitative","scale":{"domain":[-11.53,0.73],"nice":false,"zero":false},"axis":{"values":[0,-3,-6,-9],"title":"UMAP_2","labelExpr":"'' + datum.value"}},"color":{"field":"KLRC2","type":"quantitative","scale":{"domain":[-0.001,2.05],"range":["#d3d3d3","#0000ff"],"interpolate":"lab"},"legend":null},"order":{"field":"KLRC2","type":"quantitative"}}},
 {"mark":{"type":"point","opacity":0},"encoding":{"x":{"field":"x","type":"quantitative","scale":{"domain":[-11.93,12.98],"nice":false,"zero":false},"axis":{"orient":"top","title":"PI","domain":false,"ticks":false,"labels":false,"titleFontSize":24,"titleFontWeight":"bold","titlePadding":20}}}}
]},
{"width":142,"height":184,"data":{"name":"cells"},"transform":[{"filter":"datum.g === 'GNP'"}],"resolve":{"axis":{"x":"independent"}},"layer":[
 {"mark":{"type":"circle","size":80,"opacity":1},"encoding":{"x":{"field":"x","type":"quantitative","scale":{"domain":[-11.93,12.98],"nice":false,"zero":false},"axis":{"values":[-10,-5,0,5,10],"title":"UMAP_1","labelExpr":"'' + datum.value"}},"y":{"field":"y","type":"quantitative","scale":{"domain":[-11.53,0.73],"nice":false,"zero":false},"axis":{"values":[0,-3,-6,-9],"title":"UMAP_2","labelExpr":"'' + datum.value"}},"color":{"field":"KLRC2","type":"quantitative","scale":{"domain":[-0.001,2.05],"range":["#d3d3d3","#0000ff"],"interpolate":"lab"},"legend":null},"order":{"field":"KLRC2","type":"quantitative"}}},
 {"mark":{"type":"point","opacity":0},"encoding":{"x":{"field":"x","type":"quantitative","scale":{"domain":[-11.93,12.98],"nice":false,"zero":false},"axis":{"orient":"top","title":"GNP","domain":false,"ticks":false,"labels":false,"titleFontSize":24,"titleFontWeight":"bold","titlePadding":20}}}}
]},
{"width":142,"height":184,"data":{"name":"cells"},"transform":[{"filter":"datum.g === 'non'"}],"resolve":{"axis":{"x":"independent","y":"independent"}},"layer":[
 {"mark":{"type":"circle","size":80,"opacity":1},"encoding":{"x":{"field":"x","type":"quantitative","scale":{"domain":[-11.93,12.98],"nice":false,"zero":false},"axis":{"values":[-10,-5,0,5,10],"title":"UMAP_1","labelExpr":"'' + datum.value"}},"y":{"field":"y","type":"quantitative","scale":{"domain":[-11.53,0.73],"nice":false,"zero":false},"axis":{"values":[0,-3,-6,-9],"title":"UMAP_2","labelExpr":"'' + datum.value"}},"color":{"field":"KLRC2","type":"quantitative","scale":{"domain":[-0.001,2.05],"range":["#d3d3d3","#0000ff"],"interpolate":"lab"},"legend":{"orient":"none","legendX":99,"legendY":1,"direction":"vertical","title":null,"gradientLength":84,"gradientThickness":5,"gradientStrokeWidth":0,"values":[0,0.5,1,1.5,2],"format":".1f","labelOffset":11,"labelOverlap":false,"encode":{"labels":{"update":{"dy":{"value":4}}}}}},"order":{"field":"KLRC2","type":"quantitative"}}},
 {"mark":{"type":"point","opacity":0},"encoding":{"x":{"field":"x","type":"quantitative","scale":{"domain":[-11.93,12.98],"nice":false,"zero":false},"axis":{"orient":"top","title":"non","domain":false,"ticks":false,"labels":false,"titleFontSize":24,"titleFontWeight":"bold","titlePadding":20}},"y":{"field":"y","type":"quantitative","scale":{"domain":[-11.53,0.73],"nice":false,"zero":false},"axis":{"orient":"right","title":"KLRC2","domain":false,"ticks":false,"labels":false,"titleAngle":90,"titleFontWeight":"bold","titleFontSize":18,"titlePadding":7}}}}
]},
{"width":142,"height":184,"title":{"text":"G","anchor":"start","frame":"group","dx":-49},"data":{"name":"cells"},"transform":[{"filter":"datum.g === 'PI'"}],"resolve":{"axis":{"x":"independent"}},"layer":[
 {"mark":{"type":"circle","size":80,"opacity":1},"encoding":{"x":{"field":"x","type":"quantitative","scale":{"domain":[-11.93,12.98],"nice":false,"zero":false},"axis":{"values":[-10,-5,0,5,10],"title":"UMAP_1","labelExpr":"'' + datum.value"}},"y":{"field":"y","type":"quantitative","scale":{"domain":[-11.53,0.73],"nice":false,"zero":false},"axis":{"values":[0,-3,-6,-9],"title":"UMAP_2","labelExpr":"'' + datum.value"}},"color":{"field":"KLRD1","type":"quantitative","scale":{"domain":[-0.001,3.1],"range":["#d3d3d3","#0000ff"],"interpolate":"lab"},"legend":null},"order":{"field":"KLRD1","type":"quantitative"}}},
 {"mark":{"type":"point","opacity":0},"encoding":{"x":{"field":"x","type":"quantitative","scale":{"domain":[-11.93,12.98],"nice":false,"zero":false},"axis":{"orient":"top","title":"PI","domain":false,"ticks":false,"labels":false,"titleFontSize":24,"titleFontWeight":"bold","titlePadding":20}}}}
]},
{"width":142,"height":184,"data":{"name":"cells"},"transform":[{"filter":"datum.g === 'GNP'"}],"resolve":{"axis":{"x":"independent"}},"layer":[
 {"mark":{"type":"circle","size":80,"opacity":1},"encoding":{"x":{"field":"x","type":"quantitative","scale":{"domain":[-11.93,12.98],"nice":false,"zero":false},"axis":{"values":[-10,-5,0,5,10],"title":"UMAP_1","labelExpr":"'' + datum.value"}},"y":{"field":"y","type":"quantitative","scale":{"domain":[-11.53,0.73],"nice":false,"zero":false},"axis":{"values":[0,-3,-6,-9],"title":"UMAP_2","labelExpr":"'' + datum.value"}},"color":{"field":"KLRD1","type":"quantitative","scale":{"domain":[-0.001,3.1],"range":["#d3d3d3","#0000ff"],"interpolate":"lab"},"legend":null},"order":{"field":"KLRD1","type":"quantitative"}}},
 {"mark":{"type":"point","opacity":0},"encoding":{"x":{"field":"x","type":"quantitative","scale":{"domain":[-11.93,12.98],"nice":false,"zero":false},"axis":{"orient":"top","title":"GNP","domain":false,"ticks":false,"labels":false,"titleFontSize":24,"titleFontWeight":"bold","titlePadding":20}}}}
]},
{"width":142,"height":184,"data":{"name":"cells"},"transform":[{"filter":"datum.g === 'non'"}],"resolve":{"axis":{"x":"independent","y":"independent"}},"layer":[
 {"mark":{"type":"circle","size":80,"opacity":1},"encoding":{"x":{"field":"x","type":"quantitative","scale":{"domain":[-11.93,12.98],"nice":false,"zero":false},"axis":{"values":[-10,-5,0,5,10],"title":"UMAP_1","labelExpr":"'' + datum.value"}},"y":{"field":"y","type":"quantitative","scale":{"domain":[-11.53,0.73],"nice":false,"zero":false},"axis":{"values":[0,-3,-6,-9],"title":"UMAP_2","labelExpr":"'' + datum.value"}},"color":{"field":"KLRD1","type":"quantitative","scale":{"domain":[-0.001,3.1],"range":["#d3d3d3","#0000ff"],"interpolate":"lab"},"legend":{"orient":"none","legendX":99,"legendY":1,"direction":"vertical","title":null,"gradientLength":84,"gradientThickness":5,"gradientStrokeWidth":0,"values":[0,1,2,3],"format":"d","labelOffset":11,"labelOverlap":false,"encode":{"labels":{"update":{"dy":{"value":4}}}}}},"order":{"field":"KLRD1","type":"quantitative"}}},
 {"mark":{"type":"point","opacity":0},"encoding":{"x":{"field":"x","type":"quantitative","scale":{"domain":[-11.93,12.98],"nice":false,"zero":false},"axis":{"orient":"top","title":"non","domain":false,"ticks":false,"labels":false,"titleFontSize":24,"titleFontWeight":"bold","titlePadding":20}},"y":{"field":"y","type":"quantitative","scale":{"domain":[-11.53,0.73],"nice":false,"zero":false},"axis":{"orient":"right","title":"KLRD1","domain":false,"ticks":false,"labels":false,"titleAngle":90,"titleFontWeight":"bold","titleFontSize":18,"titlePadding":7}}}}
]}
]
}
